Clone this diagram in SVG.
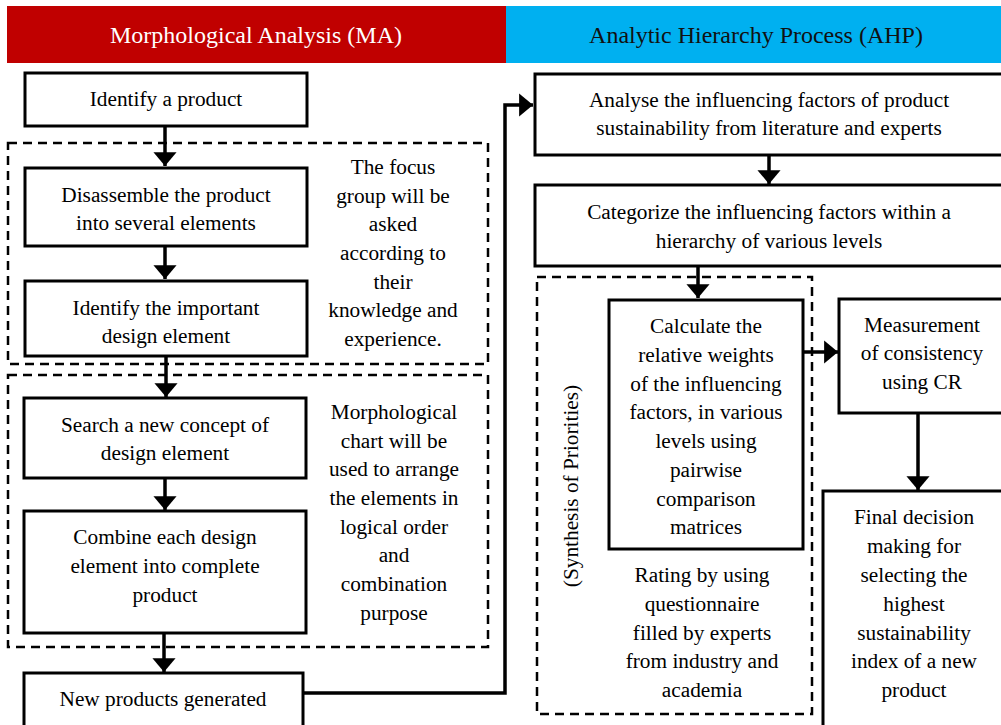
<svg xmlns="http://www.w3.org/2000/svg" width="1001" height="725" viewBox="0 0 1001 725">
<defs>
<style>
.t{font-family:"Liberation Serif","Times New Roman",serif;font-size:21.3px;fill:#000;text-anchor:middle}
.h{font-family:"Liberation Serif","Times New Roman",serif;font-size:24px;text-anchor:middle}
.box{fill:#fff;stroke:#000;stroke-width:3}
.dash{fill:none;stroke:#000;stroke-width:2.5;stroke-dasharray:9,6}
.ln{fill:none;stroke:#000;stroke-width:3.5}
</style>
<marker id="ah" viewBox="0 0 6 10" refX="6" refY="5" markerWidth="4" markerHeight="6.6" markerUnits="strokeWidth" orient="auto">
<path d="M0,0 L6,5 L0,10 Z" fill="#000"/>
</marker>
</defs>
<rect width="1001" height="725" fill="#fff"/>
<g id="header-ma">
<rect x="7" y="6" width="499" height="57" fill="#C00000"/>
<text class="h" x="256" y="43" fill="#fff">Morphological Analysis (MA)</text>
</g>
<g id="header-ahp">
<rect x="506" y="6" width="495" height="57" fill="#00B0F0"/>
<text class="h" x="756" y="43" fill="#111">Analytic Hierarchy Process (AHP)</text>
</g>
<g id="group-focus">
<rect class="dash" x="8" y="143" width="480" height="221"/>
<text class="t" x="393" y="174">The focus</text>
<text class="t" x="393" y="203">group will be</text>
<text class="t" x="393" y="231">asked</text>
<text class="t" x="393" y="260">according to</text>
<text class="t" x="393" y="289">their</text>
<text class="t" x="393" y="317">knowledge and</text>
<text class="t" x="393" y="346">experience.</text>
</g>
<g id="group-morph">
<rect class="dash" x="8" y="375" width="480" height="272"/>
<text class="t" x="394" y="419">Morphological</text>
<text class="t" x="394" y="448">chart will be</text>
<text class="t" x="394" y="476">used to arrange</text>
<text class="t" x="394" y="505">the elements in</text>
<text class="t" x="394" y="534">logical order</text>
<text class="t" x="394" y="562">and</text>
<text class="t" x="394" y="591">combination</text>
<text class="t" x="394" y="620">purpose</text>
</g>
<g id="group-synthesis">
<rect class="dash" x="537" y="277" width="275" height="437"/>
<text class="t" transform="translate(578,486) rotate(-90)">(Synthesis of Priorities)</text>
<text class="t" x="702" y="582">Rating by using</text>
<text class="t" x="702" y="611">questionnaire</text>
<text class="t" x="702" y="640">filled by experts</text>
<text class="t" x="702" y="668">from industry and</text>
<text class="t" x="702" y="697">academia</text>
</g>
<g id="connectors">
<line class="ln" x1="165" y1="126" x2="165" y2="166" marker-end="url(#ah)"/>
<line class="ln" x1="165" y1="246" x2="165" y2="279" marker-end="url(#ah)"/>
<line class="ln" x1="166" y1="356" x2="166" y2="397" marker-end="url(#ah)"/>
<line class="ln" x1="165" y1="478" x2="165" y2="510" marker-end="url(#ah)"/>
<line class="ln" x1="164" y1="633" x2="164" y2="672" marker-end="url(#ah)"/>
<polyline class="ln" points="303,693 505,693 505,105 533,105" marker-end="url(#ah)"/>
<line class="ln" x1="769" y1="155" x2="769" y2="184" marker-end="url(#ah)"/>
<line class="ln" x1="698" y1="266" x2="698" y2="298" marker-end="url(#ah)"/>
<line class="ln" x1="803" y1="352" x2="838" y2="352" marker-end="url(#ah)"/>
<line class="ln" x1="918" y1="413" x2="918" y2="490" marker-end="url(#ah)"/>
</g>
<g id="n1">
<rect class="box" x="25" y="73" width="282" height="53"/>
<text class="t" x="166" y="106">Identify a product</text>
</g>
<g id="n2">
<rect class="box" x="25" y="168" width="282" height="78"/>
<text class="t" x="166" y="202">Disassemble the product</text>
<text class="t" x="166" y="230">into several elements</text>
</g>
<g id="n3">
<rect class="box" x="25" y="281" width="282" height="75"/>
<text class="t" x="166" y="315">Identify the important</text>
<text class="t" x="166" y="343">design element</text>
</g>
<g id="n4">
<rect class="box" x="24" y="398" width="282" height="80"/>
<text class="t" x="165" y="432">Search a new concept of</text>
<text class="t" x="165" y="460">design element</text>
</g>
<g id="n5">
<rect class="box" x="24" y="511" width="282" height="122"/>
<text class="t" x="165" y="544">Combine each design</text>
<text class="t" x="165" y="573">element into complete</text>
<text class="t" x="165" y="602">product</text>
</g>
<g id="n6">
<rect class="box" x="24" y="673" width="279" height="54"/>
<text class="t" x="163" y="706">New products generated</text>
</g>
<g id="n7">
<rect class="box" x="535" y="74" width="470" height="81"/>
<text class="t" x="769" y="107">Analyse the influencing factors of product</text>
<text class="t" x="769" y="135">sustainability from literature and experts</text>
</g>
<g id="n8">
<rect class="box" x="535" y="185" width="470" height="81"/>
<text class="t" x="769" y="219">Categorize the influencing factors within a</text>
<text class="t" x="769" y="248">hierarchy of various levels</text>
</g>
<g id="n9">
<rect class="box" x="609" y="300" width="194" height="249"/>
<text class="t" x="706" y="333">Calculate the</text>
<text class="t" x="706" y="362">relative weights</text>
<text class="t" x="706" y="391">of the influencing</text>
<text class="t" x="706" y="419">factors, in various</text>
<text class="t" x="706" y="448">levels using</text>
<text class="t" x="706" y="477">pairwise</text>
<text class="t" x="706" y="506">comparison</text>
<text class="t" x="706" y="534">matrices</text>
</g>
<g id="n10">
<rect class="box" x="839" y="299" width="166" height="114"/>
<text class="t" x="922" y="332">Measurement</text>
<text class="t" x="922" y="360">of consistency</text>
<text class="t" x="922" y="389">using CR</text>
</g>
<g id="n11">
<rect class="box" x="823" y="491" width="182" height="240"/>
<text class="t" x="914" y="524">Final decision</text>
<text class="t" x="914" y="553">making for</text>
<text class="t" x="914" y="582">selecting the</text>
<text class="t" x="914" y="611">highest</text>
<text class="t" x="914" y="640">sustainability</text>
<text class="t" x="914" y="668">index of a new</text>
<text class="t" x="914" y="697">product</text>
</g>
</svg>
